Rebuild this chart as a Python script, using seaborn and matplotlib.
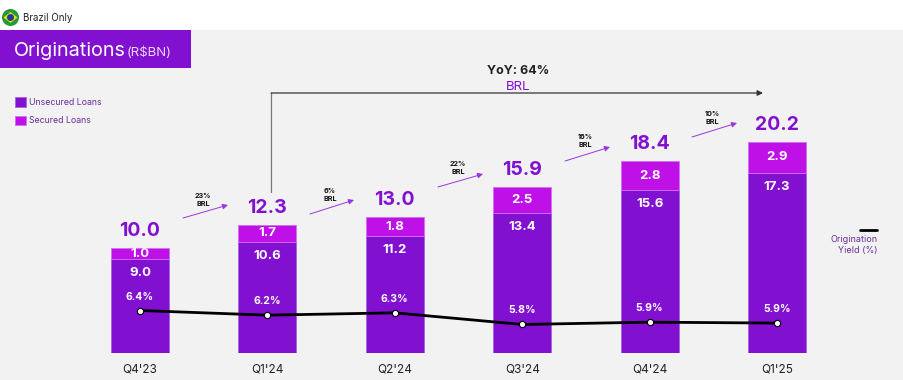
import numpy as np
import pandas as pd
import matplotlib
matplotlib.use('Agg')
import matplotlib.pyplot as plt
from matplotlib.patches import Rectangle, Circle, Polygon
import seaborn as sns

# values
quarters = ["Q4'23", "Q1'24", "Q2'24", "Q3'24", "Q4'24", "Q1'25"]
unsecured = [9.0, 10.6, 11.2, 13.4, 15.6, 17.3]
secured = [1.0, 1.7, 1.8, 2.5, 2.8, 2.9]
totals = [10.0, 12.3, 13.0, 15.9, 18.4, 20.2]
yield_pct = [6.4, 6.2, 6.3, 5.8, 5.9, 5.86]
growth = ['23%', '6%', '22%', '16%', '10%']

PURPLE = '#8210d0'
MAGENTA = '#bf10e8'
BG = '#f2f2f2'
LEGEND_TXT = '#6b2c9c'
W, H = 904, 380

sns.set_theme(style='white')
plt.rcParams['font.family'] = ['Inter', 'DejaVu Sans']

df = pd.DataFrame({'quarter': quarters, 'unsecured': unsecured, 'secured': secured})

fig = plt.figure(figsize=(W / 100, H / 100), dpi=100, facecolor=BG)

# main axes sits on the bar baseline so tick labels fall below it
ax = fig.add_axes([0, 27.5 / H, 1, 352.5 / H], facecolor='none')
sns.barplot(data=df, x='quarter', y='unsecured', color=PURPLE, saturation=1,
            width=58 / 127.4, edgecolor='#a860e0', linewidth=0.6, ax=ax, label='Unsecured Loans')
sns.barplot(data=df, x='quarter', y='secured', bottom=df['unsecured'], color=MAGENTA, saturation=1,
            width=58 / 127.4, edgecolor='#d070f0', linewidth=0.6, ax=ax, label='Secured Loans')
handles, labels = ax.get_legend_handles_labels()
ax.get_legend().remove()
ax.set_xlim(-140 / 127.4, (W - 140) / 127.4)
ax.set_ylim(0, 352.5 / 10.4)
ax.set_xlabel('')
ax.set_ylabel('')
ax.set_yticks([])
ax.tick_params(axis='x', length=0, pad=8, labelsize=8.5, labelcolor='#222222')
sns.despine(ax=ax, left=True, bottom=True)

# segment and total labels
for i in range(len(quarters)):
    ax.annotate(f'{unsecured[i]:.1f}', (i, unsecured[i]), xytext=(0, -14), textcoords='offset pixels',
                ha='center', va='center', color='white', fontsize=9.5, fontweight='bold')
    ax.annotate(f'{secured[i]:.1f}', (i, unsecured[i] + secured[i] / 2), ha='center', va='center',
                color='white', fontsize=9.5, fontweight='bold')
    ax.annotate(f'{totals[i]:.1f}', (i, totals[i]), xytext=(0, 17), textcoords='offset pixels',
                ha='center', va='center', color=PURPLE, fontsize=14, fontweight='bold')

# yield line on its own scale
ax2 = ax.twinx()
sns.lineplot(x=np.arange(len(quarters)), y=yield_pct, color='black', linewidth=2, marker='o',
             markersize=4.5, markerfacecolor='white', markeredgecolor='black', markeredgewidth=0.8, ax=ax2)
ax2.set_ylim(6.4 - 42 / 23.3, 6.4 - 42 / 23.3 + 352.5 / 23.3)
ax2.set_yticks([])
ax2.set_ylabel('')
ax2.patch.set_visible(False)
sns.despine(ax=ax2, left=True, bottom=True, right=True)
for i, v in enumerate(yield_pct):
    ax2.annotate(f'{v:.1f}%', (i, v), xytext=(0, 14), textcoords='offset pixels', ha='center', va='center',
                 color='white', fontsize=7.5, fontweight='bold')

# slide furniture, in pixel coordinates
deco = fig.add_axes([0, 0, 1, 1], facecolor='none', zorder=-1)
deco.set_xlim(0, W)
deco.set_ylim(H, 0)
deco.axis('off')
deco.add_patch(Rectangle((0, 0), W, 30, color='white', lw=0))
deco.add_patch(Rectangle((0, 30), 191, 37.5, color=PURPLE, lw=0))

over = fig.add_axes([0, 0, 1, 1], facecolor='none', zorder=5)
over.set_xlim(0, W)
over.set_ylim(H, 0)
over.axis('off')

# flag
over.add_patch(Circle((10.5, 17.5), 8.5, color='#1f9a3c', lw=0))
over.add_patch(Polygon([[3.5, 17.5], [10.5, 12], [17.5, 17.5], [10.5, 23]], color='#f5d90a', lw=0))
over.add_patch(Circle((10.5, 17.5), 3.5, color='#1c3f94', lw=0))
over.text(23.5, 18, 'Brazil Only', fontsize=7, color='#222222', va='center')
over.text(14, 51, 'Originations', fontsize=14.2, color='white', va='center')
over.text(127, 52.5, '(R$BN)', fontsize=9.5, color='#ecd8fa', va='center')

# growth arrows
arrow_from = [(183, 218), (310, 214), (438, 187), (565, 161), (692, 137)]
arrow_to = [(228, 205), (354, 200), (483, 174), (610, 147), (737, 123)]
label_xy = [(203, 200), (330, 195), (458, 168), (585, 141), (712, 118)]
for a, b, c, g in zip(arrow_from, arrow_to, label_xy, growth):
    over.annotate('', xy=b, xytext=a, arrowprops=dict(arrowstyle='-|>', color='#9a35dc', lw=0.7,
                                                      mutation_scale=8, shrinkA=0, shrinkB=0))
    over.text(c[0], c[1], f'{g}\nBRL', fontsize=5.2, fontweight='bold', color='#111111',
              ha='center', va='center', linespacing=1.45)

# YoY bracket
over.plot([271, 271], [192, 93], color='#777777', lw=0.9)
over.annotate('', xy=(763, 93), xytext=(271, 93), arrowprops=dict(arrowstyle='-|>', color='#333333', lw=0.9,
                                                                  mutation_scale=8, shrinkA=0, shrinkB=0))
over.text(518, 71, 'YoY: 64%', fontsize=9, fontweight='bold', color='#222222', ha='center', va='center')
over.text(518, 87, 'BRL', fontsize=9.5, color=PURPLE, ha='center', va='center')

# right-hand key for the line
over.plot([860, 877], [230, 230], color='black', lw=2)
over.text(878, 245, 'Origination\nYield (%)', fontsize=6.5, color=LEGEND_TXT, ha='right', va='center', linespacing=1.3)

# bar legend
over.legend(handles, labels, loc='upper left', bbox_to_anchor=(15 / W, 1 - 97.5 / H), frameon=False,
            fontsize=6.3, labelcolor=LEGEND_TXT, handlelength=1.25, handleheight=1.25,
            handletextpad=0.4, labelspacing=1.0, borderpad=0, borderaxespad=0)

fig.savefig('out.png', dpi=100, facecolor=BG)
